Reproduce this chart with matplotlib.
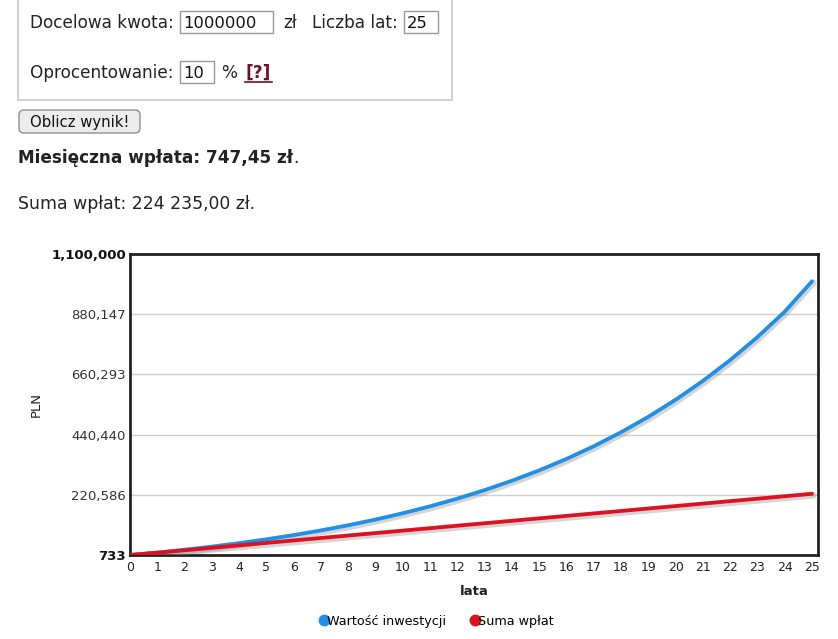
import matplotlib
matplotlib.use("Agg")
import matplotlib.pyplot as plt
import matplotlib.patheffects as pe
from matplotlib.patches import Rectangle, FancyBboxPatch
from matplotlib.lines import Line2D

# ---- data ----
years = list(range(0, 26))
investment_value = [733, 9400, 19800, 31200, 43900, 57900, 73300, 90400, 109300,
                    130100, 153100, 178500, 206600, 237700, 271900, 309800, 351600,
                    397800, 448900, 505300, 567600, 636400, 712400, 796400, 889200,
                    1000000]
deposits_sum = [733, 8970, 17940, 26910, 35880, 44850, 53810, 62780, 71750, 80720,
                89690, 98660, 107630, 116600, 125570, 134540, 143510, 152480,
                161450, 170420, 179390, 188360, 197330, 206300, 215270, 224235]
y_ticks = [733, 220586, 440440, 660293, 880147, 1100000]
y_tick_labels = ["733", "220,586", "440,440", "660,293", "880,147", "1,100,000"]
series_names = ["Wartość inwestycji", "Suma wpłat"]
series_colors = ["#1f90e8", "#e0101e"]

W, H = 838, 639
fig = plt.figure(figsize=(W / 100, H / 100), dpi=100)
fig.patch.set_facecolor("white")

# ---- page (form) in pixel coordinates ----
bg = fig.add_axes([0, 0, 1, 1])
bg.set_xlim(0, W)
bg.set_ylim(H, 0)
bg.axis("off")

txt = "#222222"
fs = 12.2
# form fieldset
bg.add_patch(Rectangle((18, -5), 434, 105, fill=False, ec="#c9c9c9", lw=1.2))

def input_box(x0, x1, y0, y1, value):
    bg.add_patch(Rectangle((x0, y0), x1 - x0, y1 - y0, fc="white", ec="#9a9a9a", lw=1.0))
    bg.text(x0 + 3, (y0 + y1) / 2 + 1, value, fontsize=11.8, color="#111111",
            va="center", ha="left")

bg.text(30, 23, "Docelowa kwota:", fontsize=fs, color=txt, va="center", ha="left")
input_box(180, 273, 11, 33, "1000000")
bg.text(283, 23, "zł", fontsize=fs, color=txt, va="center", ha="left")
bg.text(312, 23, "Liczba lat:", fontsize=fs, color=txt, va="center", ha="left")
input_box(404, 438, 11, 33, "25")

bg.text(30, 73, "Oprocentowanie:", fontsize=fs, color=txt, va="center", ha="left")
input_box(180, 214, 61, 83, "10")
bg.text(221, 73, "%", fontsize=fs, color=txt, va="center", ha="left")
bg.text(245, 73, "[?]", fontsize=fs, color="#6b1030", fontweight="bold",
        va="center", ha="left")
bg.plot([245, 272], [82, 82], color="#6b1030", lw=1.2)

# button
bg.add_patch(FancyBboxPatch((19, 110), 121, 23, boxstyle="round,pad=0,rounding_size=5",
                            fc="#ececec", ec="#8f8f8f", lw=1.0))
bg.text(80, 122, "Oblicz wynik!", fontsize=10.7, color="#111111", va="center", ha="center")

t1 = bg.text(18, 158, "Miesięczna wpłata: 747,45 zł", fontsize=12.2, color=txt,
             fontweight="bold", va="center", ha="left")
bg.annotate(".", xy=(1, 0.5), xycoords=t1, xytext=(0.5, 0), textcoords="offset points",
            fontsize=12.2, color=txt, va="center", ha="left")

bg.text(18, 204, "Suma wpłat: 224 235,00 zł.", fontsize=12.4, color=txt, va="center", ha="left")

# ---- chart ----
left, right, top, bottom = 130, 818, 254, 555
ax = fig.add_axes([left / W, 1 - bottom / H, (right - left) / W, (bottom - top) / H])
ax.set_facecolor("white")

shadow = [pe.SimpleLineShadow(offset=(0.8, -1.0), shadow_color="#777777", alpha=0.3,
                              linewidth=5.0), pe.Normal()]
ax.plot(years, investment_value, color=series_colors[0], lw=2.7,
        solid_capstyle="round", path_effects=shadow, zorder=3)
ax.plot(years, deposits_sum, color=series_colors[1], lw=2.7,
        solid_capstyle="round", path_effects=shadow, zorder=3)

ax.set_xlim(0, 25.22)
ax.set_ylim(y_ticks[0], y_ticks[-1])
ax.set_xticks(years)
ax.set_xticklabels([str(y) for y in years], fontsize=9, color="#222222")
ax.set_yticks(y_ticks)
ax.set_yticklabels(y_tick_labels, fontsize=9.5, color="#333333")
for i, lab in enumerate(ax.get_yticklabels()):
    if i in (0, len(y_ticks) - 1):
        lab.set_fontweight("bold")
        lab.set_color("#111111")
ax.tick_params(axis="y", length=0, pad=3)
ax.tick_params(axis="x", length=0, pad=4)
ax.grid(axis="y", color="#d0d0d0", lw=1.0)
ax.set_axisbelow(True)
for s in ax.spines.values():
    s.set_color("#222222")
    s.set_linewidth(2.0)

ax.set_xlabel("lata", fontsize=9.5, fontweight="bold", color="#222222", labelpad=8)
ax.set_ylabel("PLN", fontsize=9.5, color="#222222", labelpad=6)

handles = [Line2D([], [], marker="o", ls="none", color=c, markersize=7.5) for c in series_colors]
fig.legend(handles, series_names, loc="center", bbox_to_anchor=(435 / W, 1 - 621 / H),
           ncol=2, frameon=False, fontsize=9.2, handletextpad=-0.3, columnspacing=1.6,
           handlelength=1.2)

fig.savefig("out.png", dpi=100, facecolor="white")
